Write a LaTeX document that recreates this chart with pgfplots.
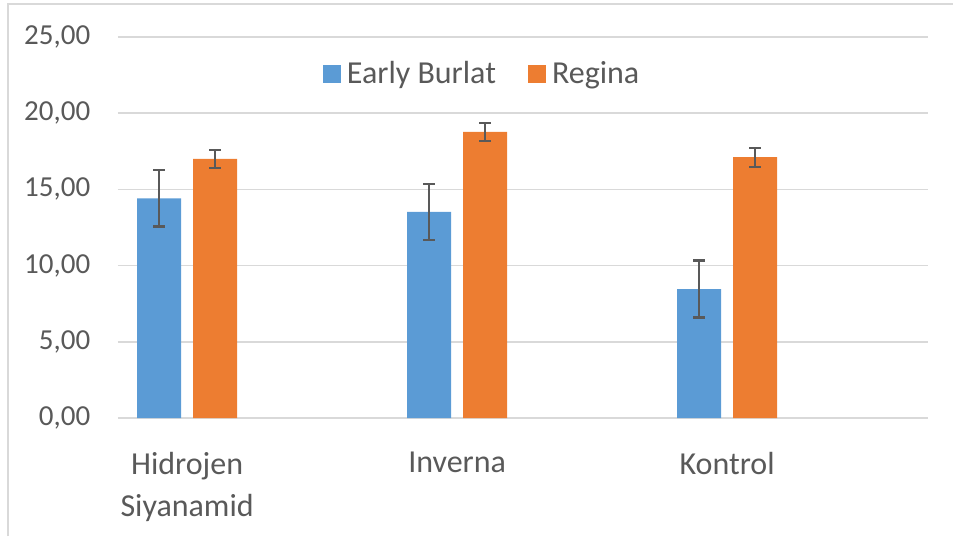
\documentclass[border=0pt]{standalone}
\usepackage{pgfplots}
\pgfplotsset{compat=1.18}
\usepackage{fontspec}
\setmainfont{Carlito}
\definecolor{cblue}{HTML}{5B9BD5}
\definecolor{corange}{HTML}{ED7D31}
\definecolor{ctext}{HTML}{595959}
\definecolor{cgrid}{HTML}{D9D9D9}
\begin{document}
\begin{tikzpicture}
\begin{axis}[
  at={(0,0)}, anchor=south west,
  scale only axis, width=405pt, height=190.5pt,
  xmin=-0.256, xmax=2.744, ymin=0, ymax=25,
  ybar=6pt, bar width=22pt,
  axis line style={draw=none}, tick style={draw=none},
  ymajorgrids, grid style={cgrid, line width=0.8pt},
  ytick={0,5,...,25},
  /pgf/number format/assume math mode=true,
  yticklabel style={/pgf/number format/.cd, fixed, fixed zerofill, precision=2, use comma,
    /tikz/.cd, font=\fontsize{14.5}{17}\selectfont, text=ctext, inner sep=0pt, xshift=-13.7pt},
  xtick={0,1,2},
  xticklabels={{Hidrojen\\Siyanamid}, Inverna, Kontrol},
  xticklabel style={align=center, font=\fontsize{16}{21}\selectfont, text=ctext, inner sep=0pt, yshift=-12.5pt},
  legend columns=2,
  legend style={at={(0.452,0.903)}, anchor=center, draw=none, fill=none,
    font=\fontsize{16}{19}\selectfont, text=ctext,
    nodes={inner sep=3pt},
    /tikz/every even column/.append style={column sep=13pt}},
  legend image code/.code={\fill[#1, draw=none] (0pt,-4.5pt) rectangle (9pt,4.5pt);},
  error bars/error bar style={ctext, line width=1pt},
  error bars/error mark options={rotate=90, mark size=2.9pt, line width=1.1pt, ctext},
]
\addplot[fill=cblue, draw=none, error bars/.cd, y dir=both, y explicit]
  coordinates {(0,14.41) +- (0,1.85) (1,13.52) +- (0,1.83) (2,8.46) +- (0,1.87)};
\addlegendentry{Early Burlat}
\addplot[fill=corange, draw=none, error bars/.cd, y dir=both, y explicit]
  coordinates {(0,17.00) +- (0,0.60) (1,18.77) +- (0,0.59) (2,17.11) +- (0,0.62)};
\addlegendentry{Regina}
\end{axis}
% frame edges of the original screenshot
\draw[cgrid, line width=0.8pt] (-55pt,-59pt) -- (-55pt,207pt) -- (417.5pt,207pt);
\pgfresetboundingbox
\useasboundingbox (-59pt,-59pt) rectangle (417.5pt,209pt);
\end{tikzpicture}
\end{document}
